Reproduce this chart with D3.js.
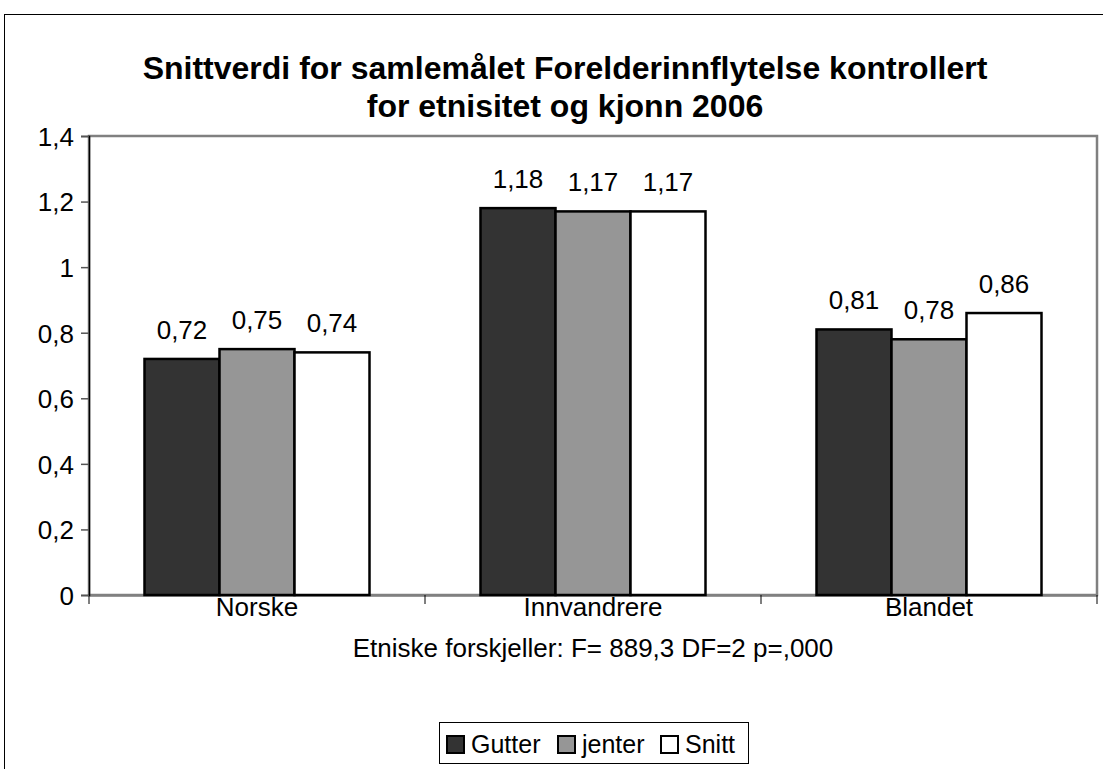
<!DOCTYPE html>
<html><head><meta charset="utf-8">
<script src="https://cdn.jsdelivr.net/npm/d3@7"></script>
<style>
body{margin:0;background:#fff;}
text{font-family:"Liberation Sans",Arial,Helvetica,sans-serif;fill:#000;}
</style></head>
<body><svg id="c" width="1103" height="769"></svg>
<script>
const categories = ["Norske", "Innvandrere", "Blandet"];
const seriesNames = ["Gutter", "jenter", "Snitt"];
const gutter = [0.72, 1.18, 0.81];
const jenter = [0.75, 1.17, 0.78];
const snitt = [0.74, 1.17, 0.86];
const yTicks = [0, 0.2, 0.4, 0.6, 0.8, 1, 1.2, 1.4];
const titleLines = ["Snittverdi for samlemålet Forelderinnflytelse kontrollert", "for etnisitet og kjonn 2006"];
const xTitle = "Etniske forskjeller: F= 889,3 DF=2 p=,000";
const colors = ["#333333", "#969696", "#ffffff"];

const series = [gutter, jenter, snitt];
const svg = d3.select("#c");
const fmt = v => (v === 0 || v === 1) ? String(v) : String(v).replace(".", ",");
const fmt2 = v => v.toFixed(2).replace(".", ",");

// outer border
svg.append("rect").attr("x", 4.5).attr("y", 14.5).attr("width", 1110).attr("height", 770)
  .attr("fill", "none").attr("stroke", "#000").attr("stroke-width", 1);

const L = 89, R = 1097, T = 136, B = 595;
const x = d3.scaleBand().domain(categories).range([L, R]).paddingInner(0).paddingOuter(0);
const y = d3.scaleLinear().domain([0, 1.4]).range([B, T]);
const inner = d3.scaleBand().domain(d3.range(3)).range([0, x.bandwidth()]).paddingOuter(0.74).paddingInner(0);

// plot frame (gray)
svg.append("rect").attr("x", L).attr("y", T).attr("width", R - L).attr("height", B - T)
  .attr("fill", "none").attr("stroke", "#808080").attr("stroke-width", 2.5);

// x axis baseline (gray)
const xAxis = d3.axisBottom(x).tickSize(0).tickPadding(0).tickFormat("");
const xa = svg.append("g").attr("transform", `translate(0,${B})`).call(xAxis);
xa.select(".domain").attr("stroke", "#808080").attr("stroke-width", 2.5);
const edges = categories.map(c => x(c)).concat([R]);
xa.selectAll(".edge").data(edges).enter().append("line").attr("class", "edge")
  .attr("x1", d => d).attr("x2", d => d).attr("y1", 0).attr("y2", 9).attr("stroke", "#000").attr("stroke-width", 1);

// bars
categories.forEach((c, ci) => {
  series.forEach((s, si) => {
    const x0 = x(c) + inner(si);
    svg.append("rect").attr("x", x0).attr("y", y(s[ci])).attr("width", inner.bandwidth()).attr("height", B - y(s[ci]))
      .attr("fill", colors[si]).attr("stroke", "#000").attr("stroke-width", 2.5);
    svg.append("text").attr("x", x0 + inner.bandwidth() / 2).attr("y", y(s[ci]) - 20)
      .attr("text-anchor", "middle").attr("font-size", 26).text(fmt2(s[ci]));
  });
});

// y axis
const yAxis = d3.axisLeft(y).tickValues(yTicks).tickSize(8).tickPadding(7).tickFormat(fmt);
const ya = svg.append("g").attr("transform", `translate(${L},0)`).call(yAxis);
ya.select(".domain").attr("stroke", "#000").attr("stroke-width", 1.5);
ya.selectAll(".tick line").attr("stroke", "#555").attr("stroke-width", 1.5);
ya.selectAll(".tick text").attr("font-size", 26).attr("font-family", "Liberation Sans, Arial, sans-serif").attr("fill", "#000").attr("dy", "0.36em");

categories.forEach(c => {
  svg.append("text").attr("x", x(c) + x.bandwidth() / 2).attr("y", 616).attr("text-anchor", "middle")
    .attr("font-size", 26).text(c);
});

svg.append("text").attr("x", (L + R) / 2).attr("y", 657).attr("text-anchor", "middle").attr("font-size", 26).text(xTitle);

// title
titleLines.forEach((t, i) => {
  svg.append("text").attr("x", 565).attr("y", 79 + i * 38).attr("text-anchor", "middle")
    .attr("font-size", 32).attr("font-weight", "bold").text(t);
});

// legend
const lg = svg.append("g");
lg.append("rect").attr("x", 439.5).attr("y", 722.5).attr("width", 309).attr("height", 41)
  .attr("fill", "#fff").attr("stroke", "#000").attr("stroke-width", 1);
const itemX = [447, 558, 661];
seriesNames.forEach((n, i) => {
  lg.append("rect").attr("x", itemX[i]).attr("y", 736).attr("width", 17).attr("height", 17)
    .attr("fill", colors[i]).attr("stroke", "#000").attr("stroke-width", 2);
  lg.append("text").attr("x", itemX[i] + 24).attr("y", 753).attr("font-size", 25).text(n);
});
</script></body></html>
